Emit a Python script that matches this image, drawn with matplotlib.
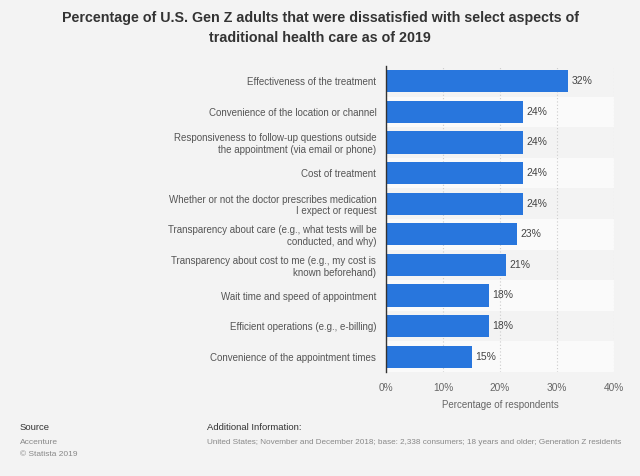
import matplotlib
matplotlib.use("Agg")
import matplotlib.pyplot as plt
import numpy as np

categories = [
    "Effectiveness of the treatment",
    "Convenience of the location or channel",
    "Responsiveness to follow-up questions outside\nthe appointment (via email or phone)",
    "Cost of treatment",
    "Whether or not the doctor prescribes medication\nI expect or request",
    "Transparency about care (e.g., what tests will be\nconducted, and why)",
    "Transparency about cost to me (e.g., my cost is\nknown beforehand)",
    "Wait time and speed of appointment",
    "Efficient operations (e.g., e-billing)",
    "Convenience of the appointment times",
]
values = [32, 24, 24, 24, 24, 23, 21, 18, 18, 15]
xticks = [0, 10, 20, 30, 40]
xticklabels = ["0%", "10%", "20%", "30%", "40%"]

plt.rcParams['font.family'] = ['Liberation Sans', 'DejaVu Sans']

bg = "#f3f3f3"
fig = plt.figure(figsize=(6.4, 4.76), dpi=100, facecolor=bg)
ax = fig.add_axes([386/640, 1-372/476, (614-386)/640, (372-66)/476])
ax.set_facecolor(bg)

n = len(categories)
y = np.arange(n)
for i in range(n):
    if i % 2 == 1:
        ax.fill_between([0, 1], i-0.5, i+0.5, transform=ax.get_yaxis_transform(), color="#fafafa", zorder=0, lw=0)

ax.barh(y, values, height=0.72, color="#2876dd", zorder=3)
for yi, v in zip(y, values):
    ax.text(v + 0.6, yi, f"{v}%", va="center", ha="left", fontsize=7.5, color="#444444", zorder=4)

ax.set_ylim(n-0.5, -0.5)
ax.set_xlim(0, 40)
ax.set_yticks(y)
ax.set_yticklabels(categories, fontsize=7, color="#555555")
ax.set_xticks(xticks)
ax.set_xticklabels(xticklabels, fontsize=7.3, color="#666666")
ax.tick_params(axis="x", length=0, pad=8)
ax.tick_params(axis="y", length=0, pad=7)
ax.xaxis.grid(True, linestyle=(0, (1, 2)), color="#cccccc", lw=0.8, zorder=1)
for s in ["top", "right", "bottom"]:
    ax.spines[s].set_visible(False)
ax.spines["left"].set_color("#333333")
ax.spines["left"].set_linewidth(1.0)
ax.spines["left"].set_zorder(5)
ax.set_xlabel("Percentage of respondents", fontsize=7, color="#666666", labelpad=5)

fig.text(0.5, 1-28/476, "Percentage of U.S. Gen Z adults that were dissatisfied with select aspects of\ntraditional health care as of 2019",
         ha="center", va="center", fontsize=10.3, fontweight="bold", color="#333333", linespacing=1.5)

fig.text(20/640, 1-428/476, "Source", fontsize=6.8, color="#333333", va="center")
fig.text(20/640, 1-442/476, "Accenture", fontsize=6, color="#888888", va="center")
fig.text(20/640, 1-455/476, "© Statista 2019", fontsize=6, color="#888888", va="center")
fig.text(207/640, 1-428/476, "Additional Information:", fontsize=6.8, color="#333333", va="center")
fig.text(207/640, 1-442/476, "United States; November and December 2018; base: 2,338 consumers; 18 years and older; Generation Z residents",
         fontsize=5.85, color="#888888", va="center")

fig.savefig("out.png", dpi=100, facecolor=bg)
